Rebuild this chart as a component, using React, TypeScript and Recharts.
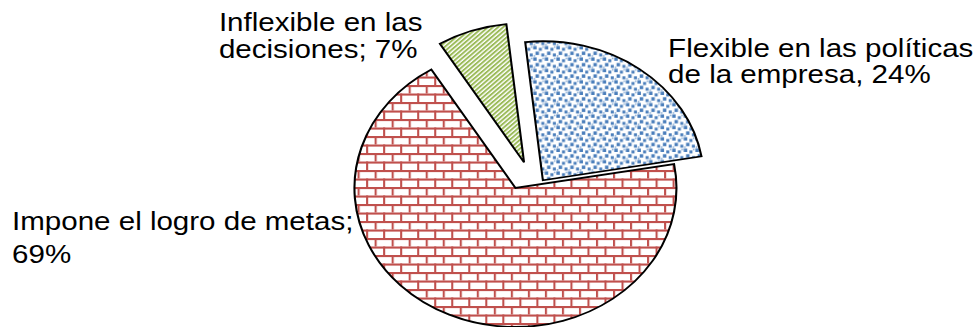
import React from 'react';
import { PieChart, Pie, Cell, Sector } from 'recharts';

const categories = [
  'Flexible en las políticas de la empresa',
  'Impone el logro de metas',
  'Inflexible en las decisiones',
];
const values = [24, 69, 7];
const labelFirstLines = ['Flexible en las políticas', 'Impone el logro de metas;', 'Inflexible en las'];
const labelSecondLines = ['de la empresa, ', '', 'decisiones; '];

const data = categories.map((name, i) => ({ name, value: values[i] }));

// chart is drawn narrower and stretched sideways, like the source image
const CHART_W = 840;
const CHART_H = 327;
const STRETCH = 973 / CHART_W;
const CX = 445;
const CY = 188;
const RADIUS = 139;

const fills = ['url(#pat-dots)', 'url(#pat-brick)', 'url(#pat-stripe)'];
// how far each slice is pulled out, and a shared turn of the pull direction (degrees)
const explode = [24.9, 0, 26.7];
const EXPLODE_TURN = -35;
const labelOffsets = [
  { dx: 131.8, dy1: -131, dy2: -105 },
  { dx: -434.6, dy1: 42, dy2: 75 },
  { dx: -256, dy1: -157, dy2: -130 },
];

const RAD = Math.PI / 180;
const BLUE = '#4A7EBB';
const RED = '#C0504D';
const GREEN = '#9BBB59';

function Patterns() {
  return (
    <defs>
      <pattern id="pat-brick" patternUnits="userSpaceOnUse" width={14.7} height={17}>
        <rect width={14.7} height={17} fill="#fff" />
        <rect x={0} y={0} width={14.7} height={2.1} fill={RED} />
        <rect x={0} y={8.5} width={14.7} height={2.1} fill={RED} />
        <rect x={0} y={0} width={1.8} height={8.5} fill={RED} />
        <rect x={7.35} y={8.5} width={1.8} height={8.5} fill={RED} />
      </pattern>
      <pattern id="pat-dots" patternUnits="userSpaceOnUse" width={10} height={11.4}>
        <rect width={10} height={11.4} fill="#fff" />
        <rect x={0.3} y={0.4} width={3} height={3.4} fill={BLUE} />
        <rect x={5.2} y={2.2} width={2.6} height={3} fill={BLUE} />
        <rect x={2.3} y={6} width={3} height={3.4} fill={BLUE} />
        <rect x={7.3} y={7.9} width={2.6} height={3} fill={BLUE} />
        <rect x={8.2} y={0.6} width={1.4} height={1.6} fill={BLUE} fillOpacity={0.6} />
        <rect x={0.6} y={9.6} width={1.4} height={1.6} fill={BLUE} fillOpacity={0.6} />
      </pattern>
      <pattern
        id="pat-stripe"
        patternUnits="userSpaceOnUse"
        width={3.1}
        height={10}
        patternTransform="rotate(45)"
      >
        <rect width={3.1} height={10} fill="#fff" />
        <rect width={1.8} height={10} fill={GREEN} />
      </pattern>
    </defs>
  );
}

function ExplodedSlice(props: any) {
  const { cx, cy, outerRadius, startAngle, endAngle, midAngle, fill, name } = props;
  const i = categories.indexOf(name ?? props.payload?.name);
  const d = explode[i] ?? 0;
  const dir = (midAngle + EXPLODE_TURN) * RAD;
  return (
    <Sector
      cx={cx + d * Math.cos(dir)}
      cy={cy - d * Math.sin(dir)}
      innerRadius={0}
      outerRadius={outerRadius}
      startAngle={startAngle}
      endAngle={endAngle}
      fill={fill}
      stroke="#000"
      strokeWidth={1.8}
    />
  );
}

function SliceLabel(props: any) {
  const { cx, cy, percent, name } = props;
  const i = categories.indexOf(name ?? props.payload?.name);
  const off = labelOffsets[i];
  const pct = `${Math.round(percent * 100)}%`;
  return (
    <text
      fontFamily="'Liberation Sans', Arial, sans-serif"
      fontSize={25.5}
      fill="#000"
      textAnchor="start"
    >
      <tspan x={cx + off.dx} y={cy + off.dy1}>{labelFirstLines[i]}</tspan>
      <tspan x={cx + off.dx} y={cy + off.dy2}>{labelSecondLines[i] + pct}</tspan>
    </text>
  );
}

export default function App() {
  return (
    <div
      style={{
        position: 'fixed',
        left: 0,
        top: 0,
        width: 973,
        height: 327,
        overflow: 'hidden',
        background: '#fff',
      }}
    >
      <div style={{ width: CHART_W, height: CHART_H, transform: `scaleX(${STRETCH})`, transformOrigin: '0 0' }}>
        <PieChart width={CHART_W} height={CHART_H} margin={{ top: 0, right: 0, bottom: 0, left: 0 }}>
          <Patterns />
          <Pie
            data={data}
            dataKey="value"
            nameKey="name"
            cx={CX}
            cy={CY}
            outerRadius={RADIUS}
            startAngle={96.3}
            endAngle={-263.7}
            shape={ExplodedSlice}
            activeShape={ExplodedSlice}
            label={SliceLabel}
            labelLine={false}
            isAnimationActive={false}
          >
            {data.map((d, i) => (
              <Cell key={d.name} fill={fills[i]} />
            ))}
          </Pie>
        </PieChart>
      </div>
    </div>
  );
}
